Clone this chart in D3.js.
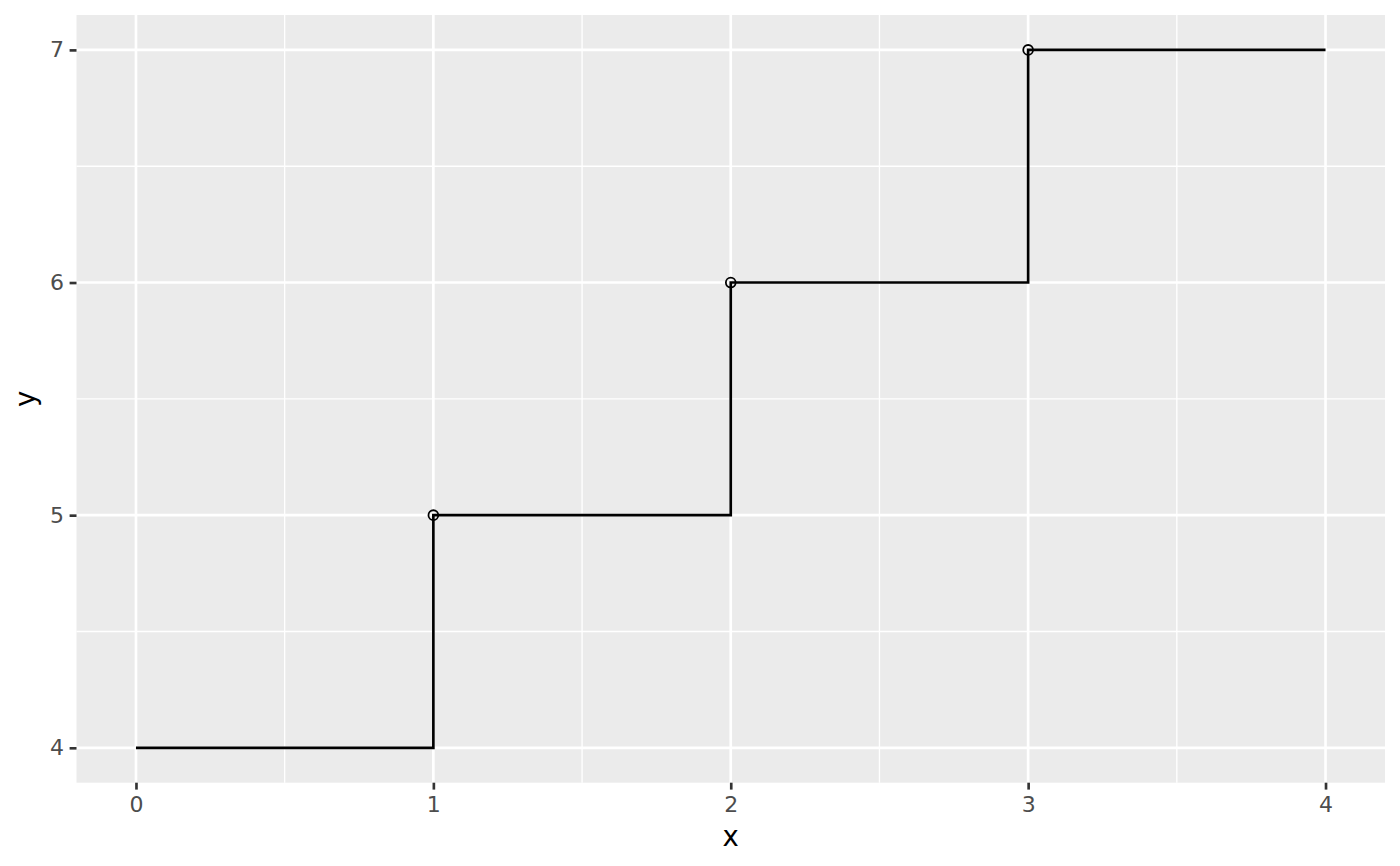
<!DOCTYPE html>
<html><head><meta charset="utf-8">
<script src="https://cdn.jsdelivr.net/npm/d3@7"></script>
<style>body{margin:0;background:#fff}svg{display:block}</style>
</head><body>
<script>
const stepX = [0, 1, 2, 3, 4];
const stepY = [4, 5, 6, 7, 7];
const pointX = [1, 2, 3];
const pointY = [5, 6, 7];
const xTicks = [0, 1, 2, 3, 4];
const yTicks = [4, 5, 6, 7];
const xMinor = [0.5, 1.5, 2.5, 3.5];
const yMinor = [4.5, 5.5, 6.5];

const W = 1400, H = 866;
const P = {l: 76.5, r: 1385, t: 15, b: 782.7};
const svg = d3.select("body").append("svg").attr("width", W).attr("height", H);
const x = d3.scaleLinear().domain([-0.2, 4.2]).range([P.l, P.r]);
const y = d3.scaleLinear().domain([3.85, 7.15]).range([P.b, P.t]);

svg.append("rect").attr("x", P.l).attr("y", P.t).attr("width", P.r - P.l).attr("height", P.b - P.t).attr("fill", "#EBEBEB");
const g = svg.append("g");
g.selectAll(".vmin").data(xMinor).join("line").attr("x1", d => x(d)).attr("x2", d => x(d)).attr("y1", P.t).attr("y2", P.b).attr("stroke", "#fff").attr("stroke-width", 1.33);
g.selectAll(".hmin").data(yMinor).join("line").attr("y1", d => y(d)).attr("y2", d => y(d)).attr("x1", P.l).attr("x2", P.r).attr("stroke", "#fff").attr("stroke-width", 1.33);
g.selectAll(".vmaj").data(xTicks).join("line").attr("x1", d => x(d)).attr("x2", d => x(d)).attr("y1", P.t).attr("y2", P.b).attr("stroke", "#fff").attr("stroke-width", 2.66);
g.selectAll(".hmaj").data(yTicks).join("line").attr("y1", d => y(d)).attr("y2", d => y(d)).attr("x1", P.l).attr("x2", P.r).attr("stroke", "#fff").attr("stroke-width", 2.66);

const stepData = stepX.map((d, i) => [d, stepY[i]]);
svg.append("path").datum(stepData)
  .attr("d", d3.line().x(d => x(d[0])).y(d => y(d[1])).curve(d3.curveStepAfter))
  .attr("fill", "none").attr("stroke", "#000").attr("stroke-width", 2.66);

svg.selectAll(".pt").data(pointX.map((d, i) => [d, pointY[i]])).join("circle")
  .attr("cx", d => x(d[0])).attr("cy", d => y(d[1])).attr("r", 4.9)
  .attr("fill", "none").attr("stroke", "#000").attr("stroke-width", 1.8);

const xAxis = svg.append("g").attr("transform", `translate(0,${P.b})`)
  .call(d3.axisBottom(x).tickValues(xTicks).tickSize(6.9).tickPadding(6.5).tickFormat(d3.format("d")));
const yAxis = svg.append("g").attr("transform", `translate(${P.l},0)`)
  .call(d3.axisLeft(y).tickValues(yTicks).tickSize(6.9).tickPadding(5.5).tickFormat(d3.format("d")));
[xAxis, yAxis].forEach(a => {
  a.select(".domain").remove();
  a.selectAll(".tick line").attr("stroke", "#333").attr("stroke-width", 2.66);
  a.selectAll(".tick text").attr("fill", "#4D4D4D").attr("font-family", "'DejaVu Sans', sans-serif").attr("font-size", 22);
  a.attr("font-size", 22).attr("font-family", "'DejaVu Sans', sans-serif");
});

svg.append("text").attr("x", x(2)).attr("y", 846).attr("text-anchor", "middle")
  .attr("font-family", "'DejaVu Sans', sans-serif").attr("font-size", 27.5).attr("fill", "#000").text("x");
svg.append("text").attr("transform", `translate(35,${(P.t + P.b) / 2}) rotate(-90)`).attr("text-anchor", "middle")
  .attr("font-family", "'DejaVu Sans', sans-serif").attr("font-size", 27.5).attr("fill", "#000").text("y");
</script>
</body></html>
